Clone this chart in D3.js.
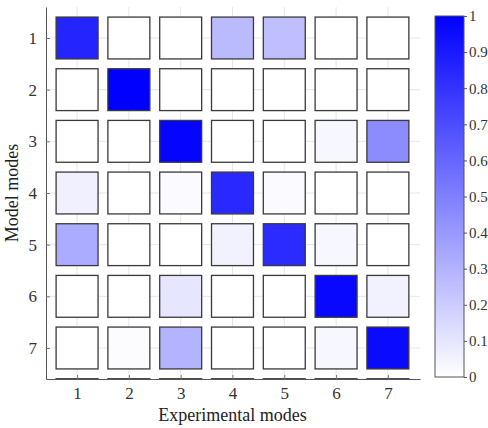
<!DOCTYPE html>
<html>
<head>
<meta charset="utf-8">
<script src="https://cdn.jsdelivr.net/npm/d3@7"></script>
<style>
  body { margin: 0; background: #fff; }
</style>
</head>
<body>
<div id="chart"></div>
<script>
// MAC matrix, model mode (row) vs experimental mode (column)
var experimentalModes = [1, 2, 3, 4, 5, 6, 7];
var modelModes = [1, 2, 3, 4, 5, 6, 7];
var row1 = [0.86, 0.00, 0.00, 0.27, 0.25, 0.00, 0.00];
var row2 = [0.00, 1.00, 0.00, 0.00, 0.00, 0.00, 0.00];
var row3 = [0.00, 0.00, 0.98, 0.00, 0.00, 0.03, 0.45];
var row4 = [0.06, 0.00, 0.02, 0.84, 0.02, 0.00, 0.00];
var row5 = [0.33, 0.00, 0.00, 0.05, 0.83, 0.03, 0.00];
var row6 = [0.00, 0.00, 0.10, 0.00, 0.00, 0.97, 0.05];
var row7 = [0.00, 0.01, 0.30, 0.00, 0.00, 0.03, 0.96];
var macRows = [row1, row2, row3, row4, row5, row6, row7];
var colorTicks = [0, 0.1, 0.2, 0.3, 0.4, 0.5, 0.6, 0.7, 0.8, 0.9, 1];

var FONT = '"Liberation Serif"';

var margin = {top: 7, left: 46},
    width = 374,
    height = 372,
    totalW = 488,
    totalH = 428;

var svg = d3.select('#chart').append('svg')
    .attr('width', totalW)
    .attr('height', totalH);

var defs = svg.append('defs');
defs.append('clipPath').attr('id', 'plotClip')
  .append('rect').attr('x', 0).attr('y', -2).attr('width', width).attr('height', height + 2);

var g = svg.append('g')
    .attr('transform', 'translate(' + margin.left + ',' + margin.top + ')');

var x = d3.scaleLinear().domain([0.4, 7.62]).range([0, width]);
var y = d3.scaleLinear().domain([0.4, 7.6]).range([0, height]);
var color = d3.scaleLinear().domain([0, 1]).range(['#ffffff', '#0000ff']);

// grid
g.append('g').selectAll('line.gx')
    .data(experimentalModes).enter().append('line')
    .attr('x1', function(d) { return x(d); }).attr('x2', function(d) { return x(d); })
    .attr('y1', 0).attr('y2', height)
    .attr('stroke', '#e6e6e6').attr('stroke-width', 1);
g.append('g').selectAll('line.gy')
    .data(modelModes).enter().append('line')
    .attr('y1', function(d) { return y(d); }).attr('y2', function(d) { return y(d); })
    .attr('x1', 0).attr('x2', width)
    .attr('stroke', '#e6e6e6').attr('stroke-width', 1);

// cells
var half = 0.405;
var cells = [];
macRows.forEach(function(r, i) {
    r.forEach(function(v, j) {
        cells.push({row: modelModes[i], col: experimentalModes[j], value: v});
    });
});
// next row sits just below the axes and is clipped away
experimentalModes.forEach(function(c) {
    cells.push({row: modelModes.length + 1, col: c, value: 0});
});

g.append('g').attr('clip-path', 'url(#plotClip)')
  .selectAll('rect').data(cells).enter().append('rect')
    .attr('x', function(d) { return x(d.col - half); })
    .attr('y', function(d) { return y(d.row - half); })
    .attr('width', x(2 * half) - x(0))
    .attr('height', y(2 * half) - y(0))
    .attr('fill', function(d) { return color(d.value); })
    .attr('stroke', '#3a3a3a')
    .attr('stroke-width', 1.3);

// axes
var xAxis = g.append('g')
    .attr('transform', 'translate(0,' + height + ')')
    .call(d3.axisBottom(x).tickValues(experimentalModes).tickSizeInner(-4).tickSizeOuter(0).tickPadding(8));
var yAxis = g.append('g')
    .call(d3.axisLeft(y).tickValues(modelModes).tickSizeInner(-4).tickSizeOuter(0).tickPadding(9));
[xAxis, yAxis].forEach(function(a) {
    a.select('.domain').attr('stroke', '#555');
    a.selectAll('.tick line').attr('stroke', '#777');
    a.selectAll('.tick text')
        .style('font-family', FONT).style('font-size', '17px').attr('fill', '#333');
});

g.append('text')
    .attr('x', x(4)).attr('y', height + 42)
    .attr('text-anchor', 'middle')
    .style('font-family', FONT).style('font-size', '18px').attr('fill', '#222')
    .text('Experimental modes');
g.append('text')
    .attr('transform', 'translate(' + (-28) + ',' + y(4) + ') rotate(-90)')
    .attr('text-anchor', 'middle')
    .style('font-family', FONT).style('font-size', '18px').attr('fill', '#222')
    .text('Model modes');

// colorbar
var cb = {x: 435, y: 16, w: 29, h: 361};
var grad = defs.append('linearGradient').attr('id', 'cbGrad')
    .attr('x1', 0).attr('y1', 1).attr('x2', 0).attr('y2', 0);
grad.append('stop').attr('offset', '0%').attr('stop-color', color(0));
grad.append('stop').attr('offset', '100%').attr('stop-color', color(1));

var cbScale = d3.scaleLinear().domain([0, 1]).range([cb.y + cb.h, cb.y]);
svg.append('rect')
    .attr('x', cb.x).attr('y', cb.y).attr('width', cb.w).attr('height', cb.h)
    .attr('fill', 'url(#cbGrad)')
    .attr('stroke', '#555').attr('stroke-width', 1);
var cbAxis = svg.append('g')
    .attr('transform', 'translate(' + (cb.x + cb.w) + ',0)')
    .call(d3.axisRight(cbScale).tickValues(colorTicks).tickFormat(d3.format('')).tickSizeInner(3).tickSizeOuter(0).tickPadding(2));
cbAxis.select('.domain').remove();
cbAxis.selectAll('.tick line').attr('stroke', '#555');
cbAxis.selectAll('.tick text')
    .style('font-family', FONT).style('font-size', '15px').attr('fill', '#333');
</script>
</body>
</html>
